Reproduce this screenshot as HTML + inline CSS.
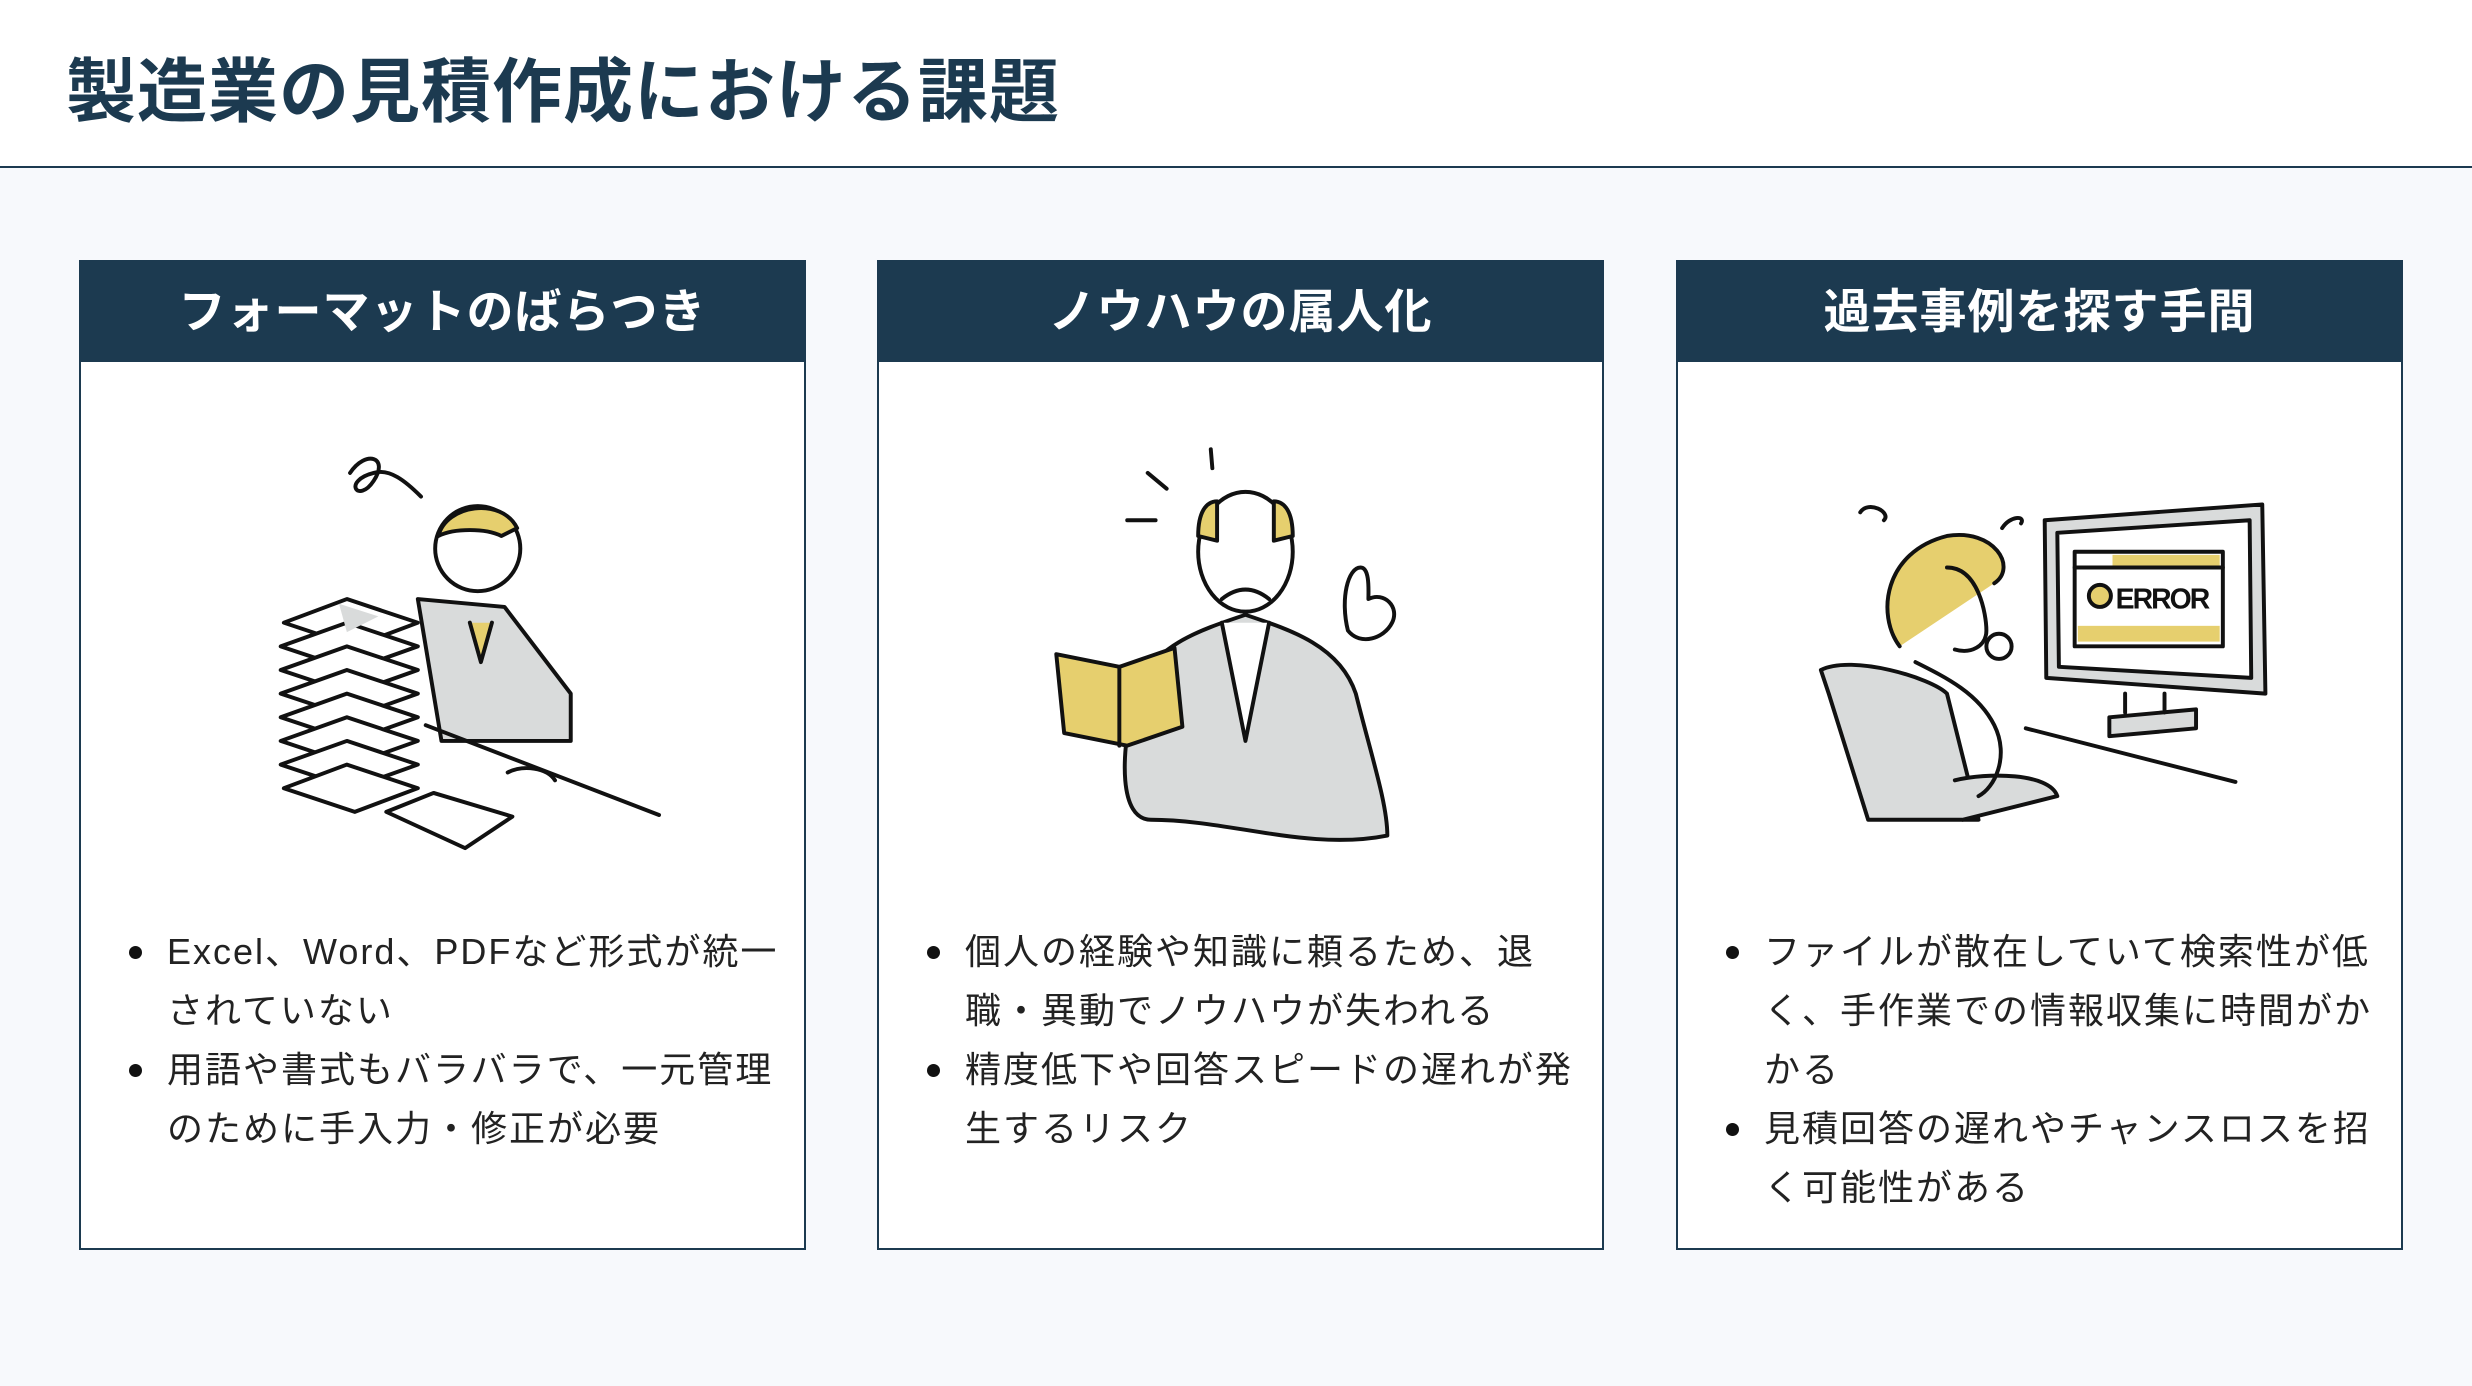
<!DOCTYPE html>
<html><head><meta charset="utf-8"><style>
*{margin:0;padding:0;box-sizing:border-box}
body{width:2472px;height:1386px;background:#f7f9fc;position:relative;overflow:hidden;font-family:"Liberation Sans","Noto Sans CJK JP",sans-serif;color:#1c2b38}
.top{position:absolute;left:0;top:0;width:2472px;height:168px;background:#fff;border-bottom:2px solid #1c3a50}
h1{position:absolute;left:66px;top:36px;font-size:70px;font-weight:700;color:#1c3a50;letter-spacing:1px}
.card{position:absolute;top:260px;width:727px;height:990px;background:#fff;border:2px solid #1c3a50}
.hd{height:100px;background:#1c3a50;color:#fff;font-size:47px;font-weight:700;text-align:center;line-height:100px;letter-spacing:1px}
ul{position:absolute;left:44px;top:660px;right:18px;list-style:none;font-size:36px;line-height:59px;color:#222;letter-spacing:2px}
li{position:relative;padding-left:42px}
li:before{content:"";position:absolute;left:4px;top:24px;width:13px;height:13px;border-radius:50%;background:#111}
svg{position:absolute;left:0;top:0}
</style></head><body>
<div class="top"></div>
<h1>製造業の見積作成における課題</h1>
<div class="card" style="left:79px"><div class="hd">フォーマットのばらつき</div>
<ul><li>Excel、Word、PDFなど形式が統一<br>されていない</li><li>用語や書式もバラバラで、一元管理<br>のために手入力・修正が必要</li></ul></div>
<div class="card" style="left:877px"><div class="hd">ノウハウの属人化</div>
<ul><li>個人の経験や知識に頼るため、退<br>職・異動でノウハウが失われる</li><li>精度低下や回答スピードの遅れが発<br>生するリスク</li></ul></div>
<div class="card" style="left:1676px"><div class="hd">過去事例を探す手間</div>
<ul><li>ファイルが散在していて検索性が低<br>く、手作業での情報収集に時間がか<br>かる</li><li>見積回答の遅れやチャンスロスを招<br>く可能性がある</li></ul></div>
<svg width="2472" height="1386" viewBox="0 0 1568 879.2" fill="none" stroke="#111" stroke-width="2.5" stroke-linecap="round" stroke-linejoin="round">
<g>
<path d="M222 300c10-15 25-10 15 5c-10 15-20 0 0-5c10-3 20 5 30 15" />
<path d="M265 380 L320 385 L362 440 L362 470 L280 470 Z" fill="#d9dbdb"/>
<path d="M298 395 L305 420 L312 395" fill="#e6cf6e"/>
<circle cx="303" cy="348" r="27" fill="#fff"/>
<path d="M278 340 c5-20 40-25 50-5 l-10 5 c-10-5-30-5-40 0z" fill="#e6cf6e"/>
<g fill="#fff">
<path d="M180 395 l40-15 45 15 -40 15z"/><path d="M178 410 l42-15 45 15 -42 15z"/><path d="M178 425 l42-15 45 15 -42 15z"/><path d="M178 440 l42-15 45 15 -42 15z"/><path d="M178 455 l42-15 45 15 -42 15z"/><path d="M178 470 l42-15 45 15 -42 15z"/><path d="M178 485 l42-15 45 15 -42 15z"/><path d="M180 500 l40-15 45 15 -40 15z"/>
</g>
<path d="M215 383 l25 8 -20 10z" fill="#d9dbdb" stroke="none"/>
<path d="M270 460 L418 517"/>
<path d="M245 515 l30-12 50 15 -30 20z" fill="#fff"/>
<path d="M322 490 c10-5 25-3 30 5"/>
</g>
<g>
<path d="M728 300 l12 10 M768 285 l1 12 M715 330 l18 0"/>
<path d="M720 440 c10-30 40-40 70-50 c30 10 60 20 70 50 c10 40 20 70 20 90 c-50 10-100 -10-150 -10 c-20 0-20-40-10-80z" fill="#d9dbdb"/>
<path d="M775 395 l15 75 15-75" fill="#fff"/>
<ellipse cx="790" cy="350" rx="30" ry="38" fill="#fff"/>
<path d="M760 340 c0-15 5-22 12-22 l0 25z M820 340 c0-15-5-22-12-22 l0 25z" fill="#e6cf6e"/>
<path d="M775 380 c10-8 20-8 30 0"/>
<path d="M670 415 l40 8 35-12 5 50 -35 12 -40-8z" fill="#e6cf6e"/>
<path d="M710 423 l0 50"/>
<path d="M855 400 c-5-20 0-40 8-40 c6 0 5 15 5 20 c10 -5 20 5 15 15 c-5 10-20 15-28 5z" fill="#fff"/>
</g>
<g>
<path d="M1297 330 L1435 320 L1437 440 L1298 430 Z" fill="#d9dbdb"/>
<path d="M1305 338 L1427 330 L1428 430 L1306 423 Z" fill="#fff"/>
<rect x="1316" y="350" width="94" height="60" fill="#fff"/>
<rect x="1340" y="352" width="68" height="7" fill="#e6cf6e" stroke="none"/>
<rect x="1318" y="397" width="90" height="10" fill="#e6cf6e" stroke="none"/>
<path d="M1316 360 L1410 360"/>
<circle cx="1332" cy="378" r="7" fill="#e6cf6e"/>
<text x="1342" y="386" font-family="Liberation Sans" font-size="18" font-weight="700" fill="#111" stroke="none" textLength="60">ERROR</text>
<path d="M1348 440 l0 12 m25-12 l0 12 M1338 455 l55-5 0 12 -55 5z" fill="#d9dbdb"/>
<path d="M1285 462 L1418 496"/>
<path d="M1155 425 c20-10 70 5 80 15 l20 80 -70 0 -25-80z" fill="#d9dbdb"/>
<path d="M1240 495 c20-5 60-5 65 10 l-60 15" fill="#d9dbdb"/>
<path d="M1205 410 c-15-20-10-60 30-70 c30-5 45 20 30 30" fill="#e6cf6e"/>
<path d="M1235 360 c20 0 25 30 25 40 c0 10-10 15-20 12 M1215 420 c20 10 40 20 50 40 c10 20 0 40-10 45"/>
<circle cx="1268" cy="410" r="8" fill="#fff"/>
<path d="M1180 325 c5-8 20 0 15 5 M1270 335 c5-8 15-8 12 -3"/>
</g>
</svg>
</body></html>
